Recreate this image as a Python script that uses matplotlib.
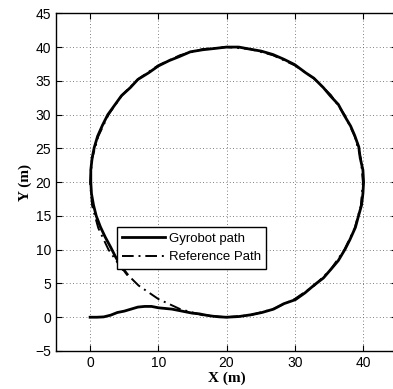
import matplotlib
matplotlib.use("Agg")
import matplotlib.pyplot as plt

# reference path (circle)
ref_x = [20.0, 23.5, 26.8, 30.0, 32.9, 35.3, 37.3, 38.8, 39.7, 40.0,
         39.7, 38.8, 37.3, 35.3, 32.9, 30.0, 26.8, 23.5, 20.0, 16.5,
         13.2, 10.0, 7.1, 4.7, 2.7, 1.2, 0.3, 0.0, 0.3, 1.2,
         2.7, 4.7, 7.1, 10.0, 13.2, 16.5, 20.0]
ref_y = [0.0, 0.3, 1.2, 2.7, 4.7, 7.1, 10.0, 13.2, 16.5, 20.0,
         23.5, 26.8, 30.0, 32.9, 35.3, 37.3, 38.8, 39.7, 40.0, 39.7,
         38.8, 37.3, 35.3, 32.9, 30.0, 26.8, 23.5, 20.0, 16.5, 13.2,
         10.0, 7.1, 4.7, 2.7, 1.2, 0.3, 0.0]

# gyrobot path
gyro_x = [0.0, 1.0, 2.0, 3.0, 4.0, 5.0, 6.0, 7.0, 8.0, 9.0,
          10.0, 11.0, 12.0, 13.0, 14.0, 15.0, 16.0, 17.0, 18.0, 19.0,
          20.0, 21.8, 23.5, 25.2, 26.9, 28.4, 30.1, 31.5, 32.9, 34.2,
          35.4, 36.4, 37.4, 38.1, 38.9, 39.3, 39.8, 40.0, 40.1, 40.0,
          39.6, 39.4, 38.8, 38.2, 37.2, 36.4, 35.2, 34.2, 32.8, 31.6,
          30.0, 28.4, 26.8, 25.1, 23.4, 21.8, 20.0, 18.3, 16.5, 14.7,
          13.1, 11.6, 10.0, 8.6, 7.0, 5.9, 4.6, 3.6, 2.6, 1.8,
          1.1, 0.6, 0.3, 0.1, 0.1, 0.2, 0.5, 0.9, 1.5, 2.2,
          3.0, 3.7, 4.5, 5.4]
gyro_y = [0.0, 0.0, 0.05, 0.3, 0.7, 0.9, 1.2, 1.5, 1.6, 1.6,
          1.4, 1.3, 1.2, 1.0, 0.8, 0.6, 0.5, 0.3, 0.15, 0.05,
          0.0, 0.1, 0.35, 0.7, 1.2, 2.0, 2.6, 3.6, 4.8, 5.8,
          7.2, 8.4, 10.1, 11.5, 13.3, 14.8, 16.6, 18.3, 20.0, 21.8,
          23.6, 25.2, 26.9, 28.3, 30.0, 31.5, 32.8, 34.0, 35.4, 36.2,
          37.4, 38.2, 38.9, 39.4, 39.7, 40.0, 40.0, 39.8, 39.6, 39.3,
          38.6, 38.0, 37.2, 36.2, 35.2, 34.0, 32.8, 31.4, 30.0, 28.4,
          26.8, 25.1, 23.6, 21.8, 20.0, 18.3, 16.6, 15.0, 13.4, 11.9,
          10.4, 9.0, 7.6, 6.4]

plt.rcParams['font.family'] = ['Liberation Sans', 'DejaVu Sans']

fig = plt.figure(figsize=(3.93, 3.89), dpi=100)
ax = fig.add_axes([0.1425, 0.0977, 0.8677, 0.8681])

ax.plot(gyro_x, gyro_y, color='black', linewidth=2.0, label='Gyrobot path')
ax.plot(ref_x, ref_y, color='black', linewidth=1.4, linestyle=(0, (6, 2.5, 1, 2.5)),
        label='Reference Path')

ax.set_xlim(-5, 45)
ax.set_ylim(-5, 45)
ax.set_xticks([0, 10, 20, 30, 40])
ax.set_yticks(range(-5, 46, 5))
ax.set_yticklabels(['\u22125'] + [str(v) for v in range(0, 46, 5)])
ax.tick_params(direction='in', top=True, right=True, labelsize=10, length=4, width=0.8)
ax.grid(True, color='#555555', linestyle=(0, (1, 3)), linewidth=0.6)
for s in ax.spines.values():
    s.set_linewidth(1.0)

ax.set_xlabel('X (m)', family='Liberation Serif', fontweight='bold', fontsize=11, labelpad=1)
ax.set_ylabel('Y (m)', family='Liberation Serif', fontweight='bold', fontsize=11, labelpad=2)

leg = ax.legend(loc='upper left', bbox_to_anchor=(0.179, 0.367), borderaxespad=0,
                fontsize=9.5, handlelength=3.2, labelspacing=0.5, fancybox=False,
                framealpha=1, edgecolor='black', borderpad=0.4, handletextpad=0.3)
leg.get_frame().set_linewidth(1.0)

fig.savefig('out.png', dpi=100)
